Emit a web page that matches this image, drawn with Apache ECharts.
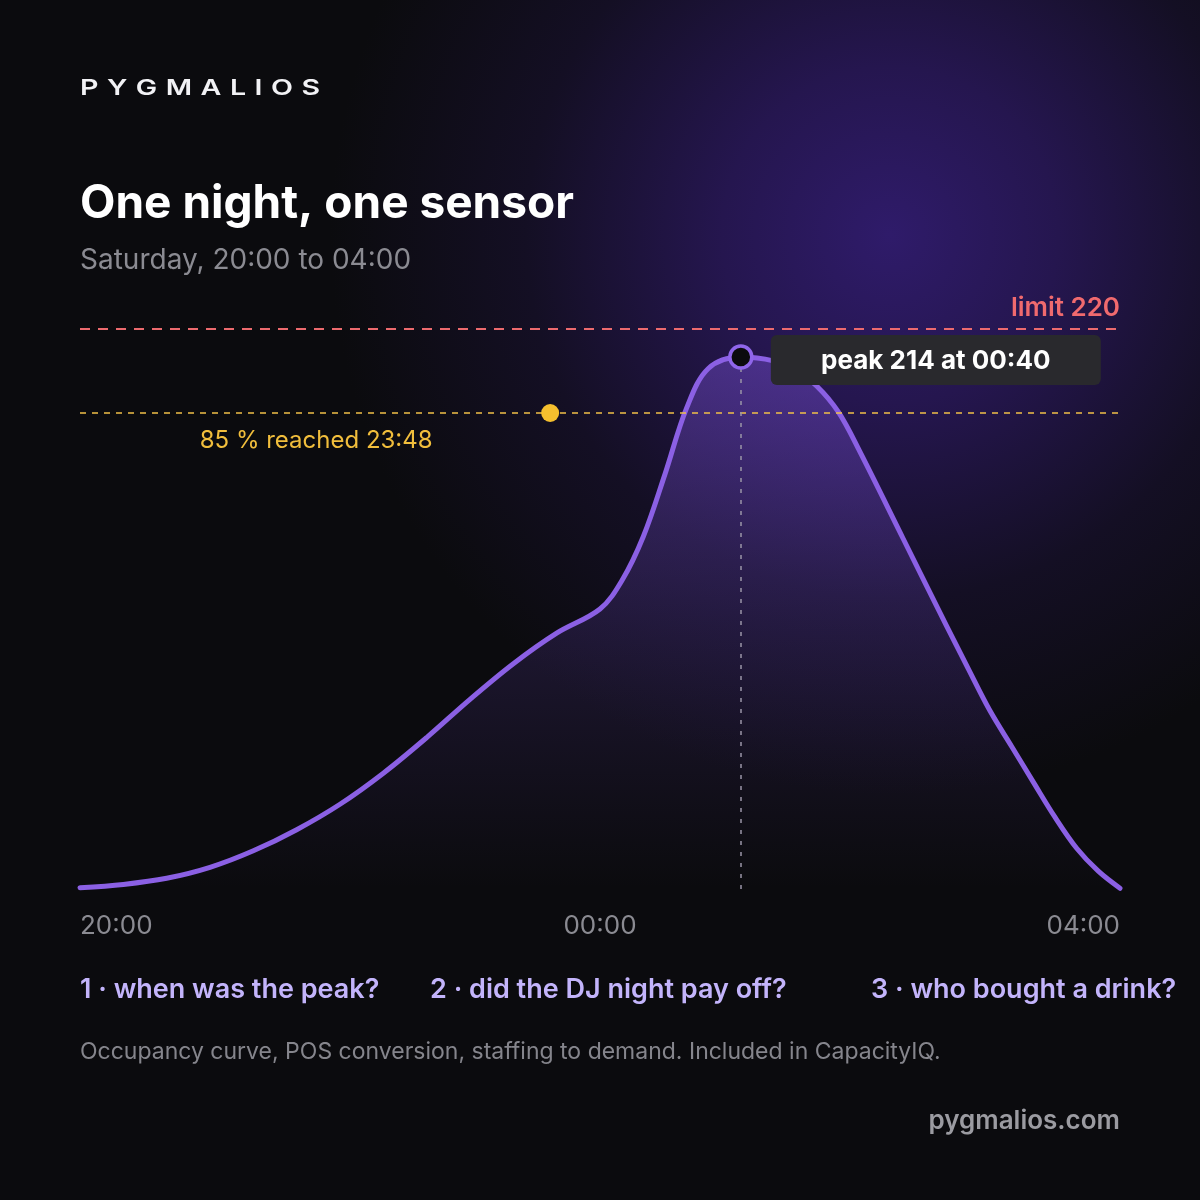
<!DOCTYPE html>
<html>
<head>
<meta charset="utf-8">
<script src="https://cdn.jsdelivr.net/npm/echarts@6/dist/echarts.min.js"></script>
<style>
  html, body { margin: 0; padding: 0; background: #0b0b0e; }
  #chart { width: 1200px; height: 1200px; }
</style>
</head>
<body>
<div id="chart"></div>
<script>
// ---- data (minutes after 20:00, occupancy) ----
const times = [0, 20, 40, 60, 80, 100, 120, 140, 160, 180, 200, 220, 240, 250, 260, 270, 280, 290, 305, 320, 330, 340, 350, 360, 380, 400, 410, 420, 430, 440, 450, 460, 470, 480];
const occupancy = [0.5, 1.8, 4.2, 8.5, 15, 23.3, 33.3, 45.5, 59.5, 74.5, 88.5, 100.5, 110, 121, 138.5, 163, 189, 204.5, 209, 207.5, 204, 197.6, 187.4, 171.7, 137.5, 103.3, 86.5, 70, 56, 42, 28.2, 16, 7, 0.3];
const tickValues = [0, 240, 480];
const tickLabels = ['20:00', '00:00', '04:00'];
const limitValue = 220;
const threshold85Value = 187;
const threshold85Time = 217;
const peakIndex = 18;
const texts = {
  logo: 'PYGMALIOS',
  title: 'One night, one sensor',
  subtitle: 'Saturday, 20:00 to 04:00',
  limit: 'limit 220',
  peak: 'peak 214 at 00:40',
  reached: '85 % reached 23:48',
  footer: 'Occupancy curve, POS conversion, staffing to demand. Included in CapacityIQ.',
  url: 'pygmalios.com'
};
const questions = ['1 · when was the peak?', '2 · did the DJ night pay off?', '3 · who bought a drink?'];

// ---- chart ----
const FONT = 'Inter, "Noto Sans", sans-serif';
const chart = echarts.init(document.getElementById('chart'), null, { renderer: 'canvas' });
const lineData = times.map((t, i) => [t, occupancy[i]]);

// logo letters with manual letter spacing (wide, geometric look)
const mctx = document.createElement('canvas').getContext('2d');
const logoFont = '600 22px ' + FONT;
const logoScale = 1.3;
mctx.font = logoFont;
const letters = texts.logo.split('');
const widths = letters.map(c => mctx.measureText(c).width * logoScale);
const totalW = 240;
const gap = (totalW - widths.reduce((a, b) => a + b, 0)) / (letters.length - 1);
let lx = 80;
const logoEls = letters.map((c, i) => {
  const el = { type: 'text', x: lx, y: 88, scaleX: logoScale, z: 10,
    style: { text: c, font: logoFont, fill: '#f2f2f5', align: 'left', verticalAlign: 'middle' } };
  lx += widths[i] + gap;
  return el;
});

const qX = [80, 430, 871];
const questionEls = questions.map((q, i) => ({
  type: 'text', x: qX[i], y: 990, z: 10,
  style: { text: q, font: '600 27px ' + FONT, fill: '#c3b4fb', align: 'left', verticalAlign: 'middle' }
}));

const baseGraphics = [
  { type: 'rect', id: 'bg', z: -10, shape: { x: 0, y: 0, width: 1200, height: 1200 },
    style: { fill: { type: 'radial', x: 890, y: 235, r: 560, global: true,
      colorStops: [
        { offset: 0, color: '#2f1b6a' },
        { offset: 0.3, color: '#25164f' },
        { offset: 0.65, color: '#140f24' },
        { offset: 1, color: '#0b0b0e' }
      ] } } },
  ...logoEls,
  { type: 'text', x: 80, y: 204, z: 10, style: { text: texts.title, font: '700 46px ' + FONT, fill: '#ffffff', align: 'left', verticalAlign: 'middle' } },
  { type: 'text', x: 80, y: 261, z: 10, style: { text: texts.subtitle, font: '400 28px ' + FONT, fill: '#8b8b92', align: 'left', verticalAlign: 'middle' } },
  ...questionEls,
  { type: 'text', x: 80, y: 1052, z: 10, style: { text: texts.footer, font: '400 23px ' + FONT, fill: '#85858c', align: 'left', verticalAlign: 'middle' } },
  { type: 'text', x: 1120, y: 1121, z: 10, style: { text: texts.url, font: '600 26px ' + FONT, fill: '#9b9ba1', align: 'right', verticalAlign: 'middle' } }
];

const option = {
  backgroundColor: '#0b0b0e',
  animation: false,
  grid: { left: 80, right: 80, top: 329, bottom: 311, containLabel: false },
  xAxis: {
    type: 'value', min: 0, max: 480, interval: 240,
    axisLine: { show: false }, axisTick: { show: false }, splitLine: { show: false },
    axisLabel: {
      color: '#8b8b92', fontSize: 26, fontFamily: FONT, margin: 24,
      showMinLabel: true, showMaxLabel: true,
      alignMinLabel: 'left', alignMaxLabel: 'right',
      formatter: v => tickLabels[tickValues.indexOf(v)]
    }
  },
  yAxis: { type: 'value', min: 0, max: limitValue, show: false, splitLine: { show: false } },
  graphic: baseGraphics,
  series: [
    {
      type: 'line', data: [], z: 1, silent: true,
      markLine: {
        silent: true, symbol: 'none', animation: false,
        data: [
          { yAxis: limitValue, lineStyle: { color: '#ec6a6e', width: 2, type: [10, 8] },
            label: { show: true, position: 'insideEndTop', formatter: texts.limit, color: '#f06a6e', fontSize: 26, fontWeight: 600, fontFamily: FONT, distance: [0, 8] } },
          { yAxis: threshold85Value, lineStyle: { color: '#f1c048', width: 1.5, type: [6, 6] }, label: { show: false } }
        ]
      }
    },
    {
      type: 'line', data: lineData, z: 3, smooth: 0.35, showSymbol: false, clip: false,
      lineStyle: { color: '#8b60e4', width: 5, cap: 'round', join: 'round' },
      areaStyle: {
        color: { type: 'linear', x: 0, y: 0, x2: 0, y2: 1, colorStops: [
          { offset: 0, color: 'rgba(135,90,235,0.55)' },
          { offset: 0.5, color: 'rgba(120,80,220,0.25)' },
          { offset: 1, color: 'rgba(110,70,200,0.0)' }
        ] }
      },
      markLine: {
        silent: true, symbol: 'none', animation: false,
        lineStyle: { color: '#9a95a8', width: 1.5, type: [4, 7] },
        label: { show: false },
        data: [[{ coord: [times[peakIndex], 0] }, { coord: [times[peakIndex], occupancy[peakIndex]] }]]
      }
    },
    {
      type: 'scatter', z: 5, silent: true,
      data: [[times[peakIndex], occupancy[peakIndex]]],
      symbolSize: 22,
      itemStyle: { color: '#0b0b0e', borderColor: '#8f66ea', borderWidth: 3.5, opacity: 1 }
    },
    {
      type: 'scatter', z: 5, silent: true,
      data: [[threshold85Time, threshold85Value]],
      symbolSize: 18,
      itemStyle: { color: '#f5bf2e', opacity: 1 }
    }
  ]
};
chart.setOption(option);

// annotations positioned from the axes
const peakPx = chart.convertToPixel({ gridIndex: 0 }, [times[peakIndex], occupancy[peakIndex]]);
const thrPx = chart.convertToPixel({ gridIndex: 0 }, [threshold85Time, threshold85Value]);
chart.setOption({
  graphic: [
    { type: 'rect', id: 'tipbox', z: 20, shape: { x: peakPx[0] + 30, y: peakPx[1] - 22, width: 330, height: 50, r: 6 },
      style: { fill: '#29292d' } },
    { type: 'text', id: 'tiptext', z: 21, x: peakPx[0] + 195, y: peakPx[1] + 4,
      style: { text: texts.peak, font: '700 26px ' + FONT, fill: '#ffffff', align: 'center', verticalAlign: 'middle' } },
    { type: 'text', id: 'reached', z: 21, x: thrPx[0] - 234, y: thrPx[1] + 28,
      style: { text: texts.reached, font: '400 24px ' + FONT, fill: '#f1be3c', align: 'center', verticalAlign: 'middle' } }
  ]
});
</script>
</body>
</html>
